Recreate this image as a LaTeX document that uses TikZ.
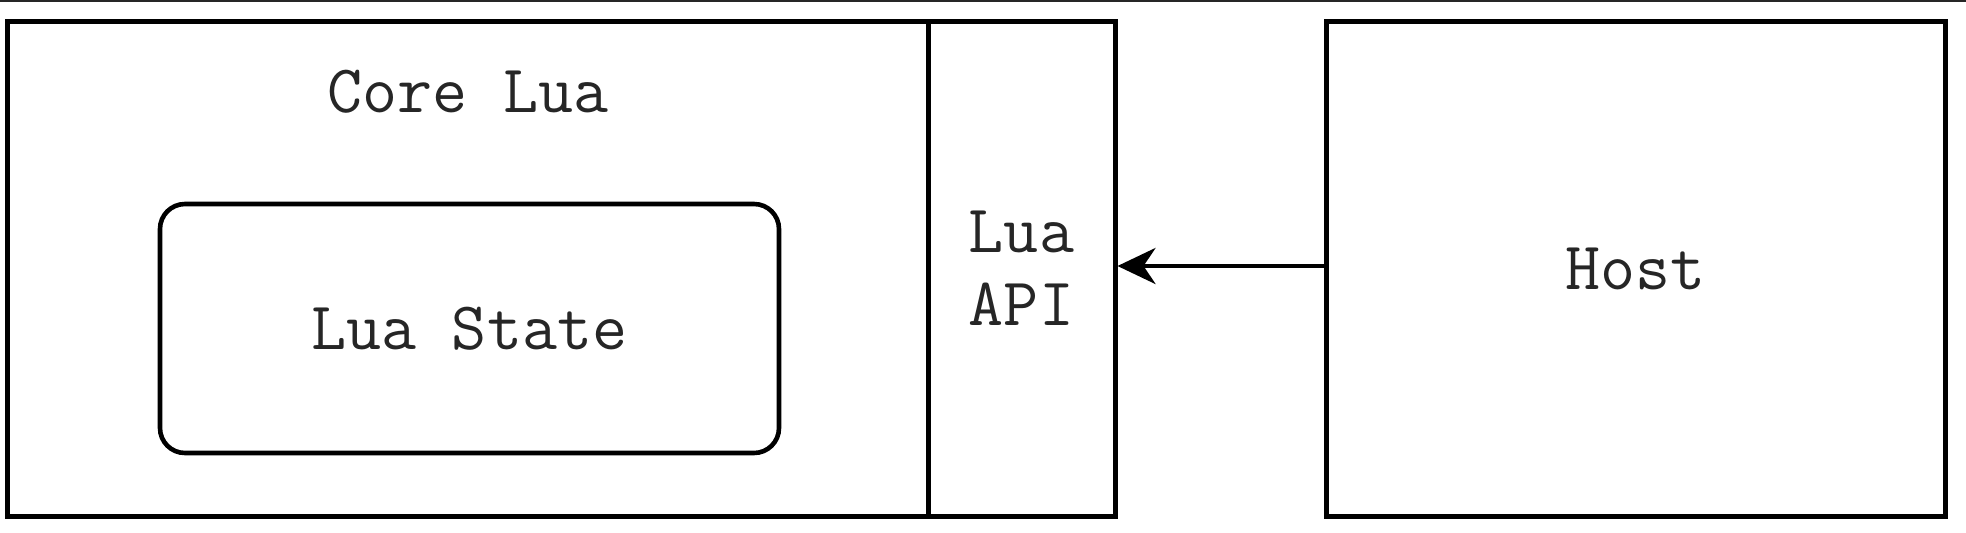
\documentclass[tikz,border=0pt]{standalone}
\usetikzlibrary{arrows.meta}
\tikzset{
  px/.style={x=0.5pt,y=-0.5pt},
  box/.style={draw=black, line width=2.5pt, fill=white, inner sep=0pt, rectangle},
  statebox/.style={draw=black, line width=2.3pt, rounded corners=12.5pt, inner sep=0pt, rectangle},
  lbl/.style={font=\ttfamily\fontsize{34}{36.5}\selectfont, text=black!85, align=center},
  conn/.style={draw=black, line width=2.2pt, -{Stealth[length=19pt,width=18pt,inset=6pt]}}
}
\begin{document}
\begin{tikzpicture}[px]
  \useasboundingbox (0,0) rectangle (1966,532);
  \fill[white] (0,0) rectangle (1966,532);
  \draw[black!85, line width=0.8pt] (0,0.8) -- (1966,0.8);
  \node[box, minimum width=460.25pt, minimum height=247.5pt] (core) at (467.75,268.5) {};
  \node[box, lbl, minimum width=93.5pt, minimum height=247.5pt] (api) at (1021.5,268.5) {Lua\\API};
  \node[box, lbl, minimum width=309.5pt, minimum height=247.5pt] (host) at (1635.5,268.5) {Host};
  \node[lbl] (corelbl) at (468,91.5) {Core Lua};
  \node[statebox, lbl, minimum width=309.5pt, minimum height=124.5pt] (state) at (469.5,328.5) {Lua State};
  \draw[conn] (host.west |- 0,266) -- (api.east |- 0,266);
\end{tikzpicture}
\end{document}
